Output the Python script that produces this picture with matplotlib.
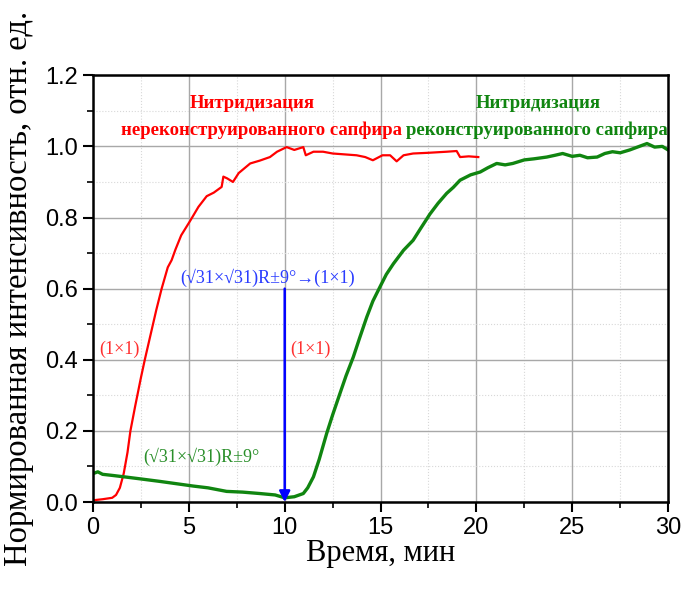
import matplotlib
matplotlib.use('Agg')
import matplotlib.pyplot as plt
from matplotlib.ticker import MultipleLocator

# red curve: nitridation of the non-reconstructed sapphire
red_t = [0.0, 0.5, 1.0, 1.2, 1.4, 1.6, 1.8, 1.95, 2.2, 2.5, 2.7, 3.0, 3.3, 3.58,
         3.9, 4.1, 4.3, 4.6, 5.06, 5.5, 5.93, 6.3, 6.71, 6.8, 7.0, 7.3, 7.6, 8.2,
         8.7, 9.23, 9.6, 10.1, 10.5, 10.97, 11.1, 11.5, 12.0, 12.5, 13.0, 13.75,
         14.2, 14.6, 15.1, 15.5, 15.84, 16.2, 16.7, 17.5, 18.45, 18.97, 19.15,
         19.6, 20.1]
red_y = [0.005, 0.008, 0.012, 0.02, 0.04, 0.08, 0.14, 0.2, 0.27, 0.35, 0.40, 0.47,
         0.54, 0.60, 0.66, 0.68, 0.71, 0.75, 0.79, 0.83, 0.86, 0.87, 0.886, 0.915,
         0.91, 0.90, 0.925, 0.952, 0.96, 0.97, 0.985, 0.998, 0.99, 0.998, 0.975,
         0.985, 0.985, 0.98, 0.978, 0.975, 0.97, 0.961, 0.975, 0.975, 0.958,
         0.975, 0.98, 0.982, 0.985, 0.987, 0.97, 0.972, 0.97]

# green curve: nitridation of the reconstructed sapphire
green_t = [0.0, 0.25, 0.5, 1.0, 1.76, 2.5, 3.5, 4.3, 5.23, 6.0, 6.97, 7.8, 8.7,
           9.5, 10.0, 10.5, 10.97, 11.2, 11.5, 11.8, 12.19, 12.5, 12.88, 13.2,
           13.58, 13.9, 14.28, 14.6, 14.97, 15.3, 15.67, 16.2, 16.7, 17.1, 17.58,
           18.0, 18.45, 18.8, 19.15, 19.7, 20.2, 20.6, 21.06, 21.5, 21.9, 22.5,
           23.0, 23.67, 24.1, 24.5, 25.0, 25.4, 25.8, 26.3, 26.7, 27.1, 27.5,
           28.0, 28.5, 28.9, 29.3, 29.7, 30.0]
green_y = [0.08, 0.085, 0.078, 0.075, 0.07, 0.065, 0.058, 0.052, 0.045, 0.04,
           0.03, 0.028, 0.024, 0.02, 0.012, 0.015, 0.024, 0.04, 0.071, 0.12,
           0.193, 0.245, 0.305, 0.355, 0.408, 0.46, 0.52, 0.565, 0.605, 0.64,
           0.67, 0.708, 0.736, 0.77, 0.81, 0.84, 0.868, 0.885, 0.905, 0.92,
           0.928, 0.94, 0.952, 0.948, 0.952, 0.962, 0.965, 0.97, 0.975, 0.98,
           0.972, 0.975, 0.968, 0.97, 0.98, 0.985, 0.982, 0.99, 1.0, 1.008,
           0.998, 1.0, 0.99]

arrow_t = 10.0
arrow_from = 0.6

serif = ['Liberation Serif', 'DejaVu Serif']
sans = ['Liberation Sans', 'DejaVu Sans']

fig = plt.figure(figsize=(6.81, 6.02), dpi=100)
ax = fig.add_axes([0.1366, 0.166, 0.8444, 0.709])

ax.plot(red_t, red_y, color='#ff0000', lw=1.6, solid_joinstyle='round')
ax.plot(green_t, green_y, color='#108510', lw=2.4, solid_joinstyle='round')

ax.annotate('', xy=(arrow_t, 0.0), xytext=(arrow_t, arrow_from),
            arrowprops=dict(arrowstyle='-|>', color='#0000ff', lw=1.8,
                            mutation_scale=16, shrinkA=0, shrinkB=0))

ax.text(8.3, 1.12, 'Нитридизация', color='#ff0000', fontsize=13.5,
        fontweight='bold', family=serif, ha='center', va='center')
ax.text(8.8, 1.045, 'нереконструированного сапфира', color='#ff0000',
        fontsize=13.5, fontweight='bold', family=serif, ha='center', va='center')
ax.text(23.2, 1.12, 'Нитридизация', color='#108510', fontsize=13.5,
        fontweight='bold', family=serif, ha='center', va='center')
ax.text(23.15, 1.045, 'реконструированного сапфира', color='#108510',
        fontsize=13.5, fontweight='bold', family=serif, ha='center', va='center')

ax.text(0.35, 0.43, '(1×1)', color='#ff3030', fontsize=13, family=serif,
        ha='left', va='center')
ax.text(10.3, 0.43, '(1×1)', color='#ff3030', fontsize=13, family=serif,
        ha='left', va='center')
ax.text(2.6, 0.127, '(√31×√31)R±9°', color='#2a8f2a', fontsize=13,
        family=serif, ha='left', va='center')
ax.text(9.1, 0.63, '(√31×√31)R±9°→(1×1)', color='#2a3cff', fontsize=13,
        family=serif, ha='center', va='center')

ax.set_xlim(0, 30)
ax.set_ylim(0, 1.2)
ax.xaxis.set_major_locator(MultipleLocator(5))
ax.xaxis.set_minor_locator(MultipleLocator(2.5))
ax.yaxis.set_major_locator(MultipleLocator(0.2))
ax.yaxis.set_minor_locator(MultipleLocator(0.1))
ax.yaxis.set_major_formatter(plt.FormatStrFormatter('%.1f'))

ax.grid(which='major', color='#a8a8a8', lw=1.0)
ax.grid(which='minor', color='#d8d8d8', lw=0.8, ls=':')
ax.set_axisbelow(True)

for s in ax.spines.values():
    s.set_linewidth(1.8)
ax.tick_params(which='major', direction='out', length=7, width=1.5,
               labelsize=17, pad=4)
ax.tick_params(which='minor', direction='out', length=4, width=1.2)
for lab in ax.get_xticklabels() + ax.get_yticklabels():
    lab.set_family(sans)

ax.set_xlabel('Время, мин', fontsize=22, family=serif, labelpad=0)
ax.set_ylabel('Нормированная интенсивность, отн. ед.', fontsize=23.5,
              family=serif, labelpad=8)

fig.savefig('out.png', dpi=100)
